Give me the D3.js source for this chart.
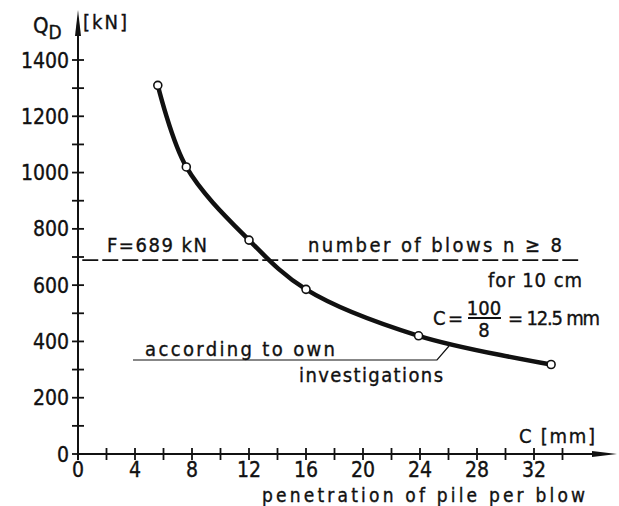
<!DOCTYPE html>
<html>
<head>
<meta charset="utf-8">
<script src="https://cdn.jsdelivr.net/npm/d3@7"></script>
<style>
  body { margin: 0; background: #fff; }
  text {
    font-family: "DejaVu Sans Condensed", "DejaVu Sans", sans-serif;
    fill: #111;
    stroke: #111;
    stroke-width: 0.35px;
  }
</style>
</head>
<body>
<svg id="chart" width="619" height="506"></svg>
<script>
// Measured points: penetration C [mm] vs. bearing capacity Q_D [kN]
const penetration = [5.6, 7.6, 12, 16, 23.9, 33.2];
const capacity = [1310, 1020, 760, 585, 420, 318];
const xTickLabels = [0, 4, 8, 12, 16, 20, 24, 28, 32];
const yTickLabels = [0, 200, 400, 600, 800, 1000, 1200, 1400];
const forceLine = 689; // F = 689 kN

const svg = d3.select("#chart");

// Scales
const x = d3.scaleLinear().domain([0, 32]).range([78, 534]);
const y = d3.scaleLinear().domain([0, 1400]).range([454, 60]);

const ink = "#111";

// Axes lines
svg.append("line")
  .attr("x1", x(0)).attr("x2", 600)
  .attr("y1", y(0)).attr("y2", y(0))
  .attr("stroke", ink).attr("stroke-width", 2);

svg.append("line")
  .attr("x1", x(0)).attr("x2", x(0))
  .attr("y1", y(0) + 6).attr("y2", 28)
  .attr("stroke", ink).attr("stroke-width", 2);

// Arrow heads
svg.append("path")
  .attr("d", `M617,${ y(0) } L592,${ y(0) - 3 } L592,${ y(0) + 3 } Z`)
  .attr("fill", ink);
svg.append("path")
  .attr("d", `M${ x(0) },10 L${ x(0) - 3 },36 L${ x(0) + 3 },36 Z`)
  .attr("fill", ink);

// Ticks (every 2 mm, every 100 kN) crossing the axis
svg.selectAll(".xtick")
  .data(d3.range(0, 35, 2))
  .join("line")
  .attr("x1", d => x(d)).attr("x2", d => x(d))
  .attr("y1", y(0) - 6).attr("y2", y(0) + 6)
  .attr("stroke", ink).attr("stroke-width", 1.8);

svg.selectAll(".ytick")
  .data(d3.range(0, 1401, 100))
  .join("line")
  .attr("x1", x(0) - 6).attr("x2", x(0) + 6)
  .attr("y1", d => y(d)).attr("y2", d => y(d))
  .attr("stroke", ink).attr("stroke-width", 1.8);

// Tick labels
svg.selectAll(".xlabel")
  .data(xTickLabels)
  .join("text")
  .attr("x", d => x(d))
  .attr("y", 477)
  .attr("text-anchor", "middle")
  .style("font-size", "21px")
  .text(d => d);

svg.selectAll(".ylabel")
  .data(yTickLabels)
  .join("text")
  .attr("x", 69)
  .attr("y", d => y(d))
  .attr("dy", "0.36em")
  .attr("text-anchor", "end")
  .style("font-size", "21px")
  .text(d => d);

// Axis titles
const qd = svg.append("text").attr("x", 33).attr("y", 33).style("font-size", "22px");
qd.append("tspan").text("Q");
qd.append("tspan").attr("dy", 6).style("font-size", "19px").text("D");

svg.append("text").attr("x", 83).attr("y", 29)
  .attr("textLength", 44).attr("lengthAdjust", "spacing")
  .style("font-size", "20px").text("[kN]");

svg.append("text").attr("x", 519).attr("y", 443)
  .attr("textLength", 76).attr("lengthAdjust", "spacing")
  .style("font-size", "20px").text("C [mm]");

svg.append("text").attr("x", 262).attr("y", 502)
  .attr("textLength", 323).attr("lengthAdjust", "spacing")
  .style("font-size", "19px").text("penetration of pile per blow");

// Dashed line for F
svg.append("line")
  .attr("x1", x(0.3)).attr("x2", x(35.1))
  .attr("y1", y(forceLine)).attr("y2", y(forceLine))
  .attr("stroke", ink).attr("stroke-width", 1.8)
  .attr("stroke-dasharray", "16,4");

svg.append("text").attr("x", 107).attr("y", y(forceLine) - 8)
  .attr("textLength", 100).attr("lengthAdjust", "spacing")
  .style("font-size", "20px").text("F=689 kN");

svg.append("text").attr("x", 308).attr("y", y(forceLine) - 8)
  .attr("textLength", 254).attr("lengthAdjust", "spacing")
  .style("font-size", "20px").text("number of blows  n ≥ 8");

svg.append("text").attr("x", 488).attr("y", y(forceLine) + 27)
  .attr("textLength", 94).attr("lengthAdjust", "spacing")
  .style("font-size", "20px").text("for 10 cm");

// C = 100/8 = 12.5 mm
const fy = 318;
svg.append("text").attr("x", 433).attr("y", fy + 7)
  .attr("textLength", 30).attr("lengthAdjust", "spacing")
  .style("font-size", "20px").text("C =");
svg.append("text").attr("x", 484).attr("y", fy - 3)
  .attr("text-anchor", "middle")
  .style("font-size", "20px").text("100");
svg.append("line")
  .attr("x1", 468).attr("x2", 501)
  .attr("y1", fy).attr("y2", fy)
  .attr("stroke", ink).attr("stroke-width", 1.8);
svg.append("text").attr("x", 484).attr("y", fy + 19)
  .attr("text-anchor", "middle")
  .style("font-size", "20px").text("8");
svg.append("text").attr("x", 508).attr("y", fy + 7)
  .attr("textLength", 92).attr("lengthAdjust", "spacing")
  .style("font-size", "20px").text("= 12.5 mm");

// "according to own investigations" with leader line
svg.append("text").attr("x", 145).attr("y", 356)
  .attr("textLength", 190).attr("lengthAdjust", "spacing")
  .style("font-size", "20px").text("according to own");
svg.append("text").attr("x", 299).attr("y", 382)
  .attr("textLength", 144).attr("lengthAdjust", "spacing")
  .style("font-size", "20px").text("investigations");
svg.append("path")
  .attr("d", "M133,360 L437,360 L449,346")
  .attr("fill", "none").attr("stroke", ink).attr("stroke-width", 1.2);

// Curve through the measured points
const pts = penetration.map((c, i) => [c, capacity[i]]);
const line = d3.line()
  .x(d => x(d[0]))
  .y(d => y(d[1]))
  .curve(d3.curveCatmullRom.alpha(0.5));

svg.append("path")
  .datum(pts)
  .attr("d", line)
  .attr("fill", "none")
  .attr("stroke", ink)
  .attr("stroke-width", 4.5)
  .attr("stroke-linecap", "round");

svg.selectAll(".pt")
  .data(pts)
  .join("circle")
  .attr("cx", d => x(d[0]))
  .attr("cy", d => y(d[1]))
  .attr("r", 4)
  .attr("fill", "#fff")
  .attr("stroke", ink)
  .attr("stroke-width", 1.6);
</script>
</body>
</html>
